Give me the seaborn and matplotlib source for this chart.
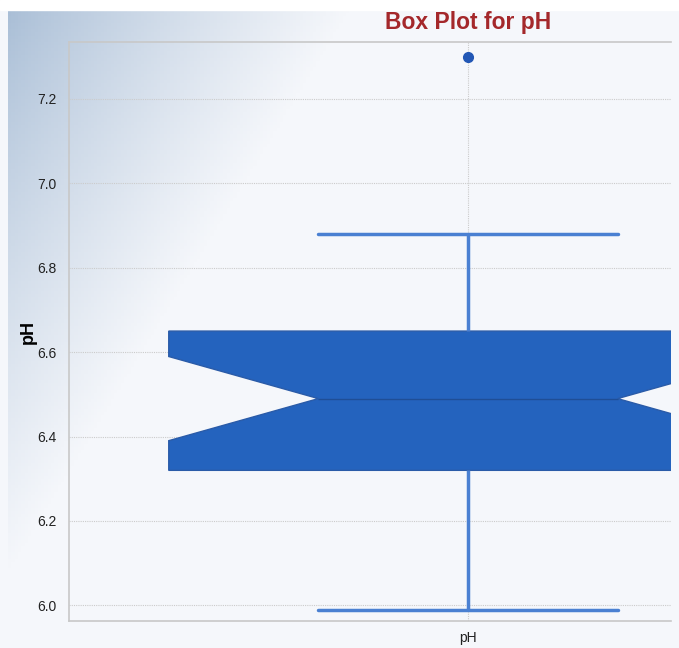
import numpy as np
import pandas as pd
import matplotlib
matplotlib.use("Agg")
import matplotlib.pyplot as plt
import seaborn as sns

# ── data: pH samples (chosen to reproduce the box stats) ──
ph_values = [5.99, 6.05, 6.12, 6.18, 6.24, 6.29, 6.32, 6.32, 6.36,
             6.40, 6.43, 6.46, 6.48, 6.49, 6.52, 6.55, 6.58, 6.61,
             6.63, 6.65, 6.65, 6.70, 6.74, 6.79, 6.84, 6.88, 7.30]
y_ticks = [6.0, 6.2, 6.4, 6.6, 6.8, 7.0, 7.2]

BOX_COLOR   = "#2463BE"
WHISK_COLOR = "#4A80D2"
TITLE_COLOR = "#A4282B"

df = pd.DataFrame({"pH": ph_values})

sns.set_style("white")
plt.rcParams["font.family"] = ["Liberation Sans", "DejaVu Sans"]

W, H = 679, 648
fig = plt.figure(figsize=(W / 100, H / 100), dpi=100)
fig.patch.set_facecolor("#F5F7FB")

# ── background gradient (top-left bluish fading to near white) ────────────────
bg = fig.add_axes([8 / W, 0, 1 - 16 / W, 1 - 10 / H])
bg.set_axis_off()
gx, gy = np.meshgrid(np.linspace(0, W - 16, 200), np.linspace(0, H - 10, 200))
t = np.clip(gx / 340 + gy / 560, 0, 1) ** 0.85
c0 = np.array([0xA9, 0xBE, 0xD6]) / 255
c1 = np.array([0xF5, 0xF7, 0xFB]) / 255
img = c0[None, None, :] * (1 - t[..., None]) + c1[None, None, :] * t[..., None]
bg.imshow(img, aspect="auto", extent=[0, 1, 0, 1])
fig.patches.append(plt.Rectangle((0, 1 - 10 / H), 1, 10 / H, transform=fig.transFigure,
                                 color="white", zorder=0))

# ── main axes ─────────────────────────────────────────────────────────────────
ax = fig.add_axes([69 / W, 1 - 621 / H, (671 - 69) / W, (621 - 42) / H])
ax.patch.set_alpha(0)

sns.boxplot(
    data=df, ax=ax, width=0.75, notch=True, saturation=1, color=BOX_COLOR,
    boxprops=dict(facecolor=BOX_COLOR, edgecolor="#2A5BA8", linewidth=1),
    medianprops=dict(color="#1F4E96", linewidth=1),
    whiskerprops=dict(color=WHISK_COLOR, linewidth=2.5),
    capprops=dict(color=WHISK_COLOR, linewidth=2.5),
    flierprops=dict(marker="o", markerfacecolor="#2257B5",
                    markeredgecolor="#2257B5", markersize=7),
)

ax.set_xlim(-0.5, 0.2544)
ax.set_ylim(5.963, 7.335)
ax.set_yticks(y_ticks)
ax.set_yticklabels([f"{v:.1f}" for v in y_ticks])
ax.set_axisbelow(True)
ax.grid(True, color="#CBCBCB", linestyle=(0, (1, 1)), linewidth=0.8)

for side in ["left", "bottom", "top"]:
    ax.spines[side].set_color("#C8C8C8")
    ax.spines[side].set_linewidth(1.2)
ax.spines["right"].set_visible(False)

ax.tick_params(axis="y", length=8, width=0.8, color="#D0D0D0", pad=1,
               labelsize=10, labelcolor="#222222")
ax.tick_params(axis="x", length=6, width=0.8, color="#D0D0D0", pad=1,
               labelsize=10, labelcolor="#222222")
ax.set_xlabel("")
ax.set_ylabel("pH", fontsize=13, fontweight="bold", labelpad=0, color="black")

fig.text(468 / W, 1 - 23 / H, "Box Plot for pH", ha="center", va="center",
         fontsize=16.5, fontweight="bold", color=TITLE_COLOR)

fig.savefig("out.png", dpi=100)
